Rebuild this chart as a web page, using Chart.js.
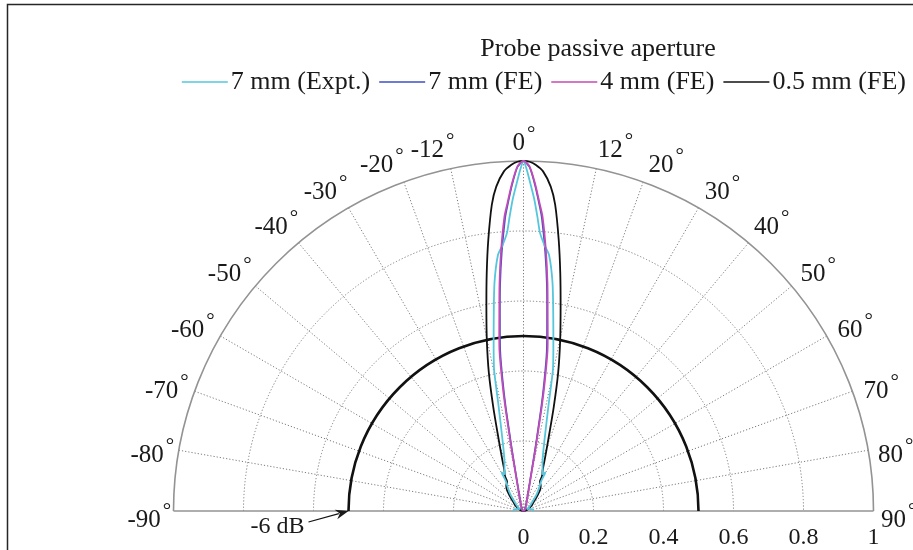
<!DOCTYPE html>
<html><head><meta charset="utf-8">
<script src="https://cdn.jsdelivr.net/npm/chart.js@4"></script>
<style>html,body{margin:0;padding:0;background:#fff;overflow:hidden}</style>
</head><body>
<canvas id="c" width="913" height="550"></canvas>
<script>
// ---- data (angles in degrees from broadside, normalised amplitude) ----
const seriesNames = ['7 mm (Expt.)', '7 mm (FE)', '4 mm (FE)', '0.5 mm (FE)'];
const legendTitle = 'Probe passive aperture';

const angExpt = [-90,-80,-70,-62,-55,-45,-38,-33,-30.5,-29.5,-27,-24.9,-20,-16.5,-13.3,-11.8,-10.5,-8.7,-7.25,-5.7,-4.5,-3.4,-2.7,-2,-1.2,-0.5,
                 0,0.5,1.2,2,2.7,3.4,4.5,5.7,7.25,8.7,10.5,11.8,13.3,16.5,20,24.9,27,29.5,30.5,33,38,45,55,62,70,80,90];
const rExpt   = [0.03,0.026,0.018,0.012,0.02,0.035,0.062,0.085,0.1,0.126,0.118,0.129,0.16,0.211,0.311,0.41,0.468,0.562,0.657,0.735,0.762,0.796,0.842,0.89,0.936,0.978,
                 1,0.978,0.936,0.89,0.842,0.796,0.762,0.735,0.657,0.562,0.468,0.41,0.311,0.211,0.16,0.129,0.118,0.126,0.1,0.085,0.062,0.035,0.02,0.012,0.018,0.026,0.03];

const ang7FE = [-90,-60,-45,-30,-20,-14.8,-12.2,-10.8,-10.3,-9.7,-9.1,-8.3,-7,-5.9,-4.8,-3.6,-3,-2,-1,
                0,1,2,3,3.6,4.8,5.9,7,8.3,9.1,9.7,10.3,10.8,12.2,14.8,20,30,45,60,90];
const r7FE   = [0,0.003,0.005,0.011,0.024,0.048,0.088,0.166,0.216,0.303,0.375,0.46,0.553,0.65,0.742,0.838,0.874,0.933,0.983,
                1,0.983,0.933,0.874,0.838,0.742,0.65,0.553,0.46,0.375,0.303,0.216,0.166,0.088,0.048,0.024,0.011,0.005,0.003,0];

const ang4FE = [-90,-60,-45,-30,-20,-15,-12.4,-11,-10.5,-9.9,-9.3,-8.5,-7.1,-6,-4.9,-3.7,-3,-2,-1,
                0,1,2,3,3.7,4.9,6,7.1,8.5,9.3,9.9,10.5,11,12.4,15,20,30,45,60,90];
const r4FE   = [0,0.003,0.006,0.012,0.025,0.05,0.09,0.17,0.22,0.307,0.379,0.465,0.559,0.655,0.748,0.843,0.88,0.937,0.985,
                1,0.985,0.937,0.88,0.843,0.748,0.655,0.559,0.465,0.379,0.307,0.22,0.17,0.09,0.05,0.025,0.012,0.006,0.003,0];

const ang05FE = [-90,-80,-70,-60,-52,-46,-42,-38,-34,-29,-28,-25,-22,-19.2,-16.2,-14.1,-12.1,-10.3,-8.8,-7.4,-5.9,-4.8,-3.3,-2,-1,
                 0,1,2,3.3,4.8,5.9,7.4,8.8,10.3,12.1,14.1,16.2,19.2,22,25,28,29,34,38,42,46,52,60,70,80,90];
const r05FE   = [0,0.005,0.012,0.022,0.033,0.045,0.06,0.077,0.088,0.097,0.112,0.13,0.165,0.215,0.31,0.406,0.5,0.593,0.687,0.781,0.88,0.93,0.972,0.99,0.998,
                 1,0.998,0.99,0.972,0.93,0.88,0.781,0.687,0.593,0.5,0.406,0.31,0.215,0.165,0.13,0.112,0.097,0.088,0.077,0.06,0.045,0.033,0.022,0.012,0.005,0];

const tickValues = [0, 0.2, 0.4, 0.6, 0.8, 1];
const tickLabels = ['0', '0.2', '0.4', '0.6', '0.8', '1'];
const gridRadii = [0.2, 0.4, 0.6, 0.8];
const spokeAngles = [-80,-70,-60,-50,-40,-30,-20,-12,0,12,20,30,40,50,60,70,80];
const angleLabels = [-90,-80,-70,-60,-50,-40,-30,-20,-12,0,12,20,30,40,50,60,70,80,90];
const refLevel = 0.5;      // -6 dB
const refLabel = '-6 dB';

const colors = ['#55c6dc', '#3d4fc4', '#c24bb5', '#111111'];
const FONT = '"Liberation Serif", "Times New Roman", serif';

function toXY(angs, rs) {
  return angs.map((a, i) => ({ x: rs[i] * Math.sin(a * Math.PI / 180), y: rs[i] * Math.cos(a * Math.PI / 180) }));
}

const polarGrid = {
  id: 'polarGrid',
  beforeDatasetsDraw(chart) {
    const { ctx, scales: { x, y } } = chart;
    const cx = x.getPixelForValue(0), cy = y.getPixelForValue(0);
    const rad = v => x.getPixelForValue(v) - cx;
    ctx.save();
    ctx.strokeStyle = '#7a7a7a'; ctx.lineWidth = 1; ctx.setLineDash([1.2, 2]);
    gridRadii.forEach(g => { ctx.beginPath(); ctx.arc(cx, cy, rad(g), Math.PI, 2 * Math.PI); ctx.stroke(); });
    spokeAngles.forEach(a => {
      const t = a * Math.PI / 180;
      ctx.beginPath(); ctx.moveTo(cx, cy);
      ctx.lineTo(x.getPixelForValue(Math.sin(t)), y.getPixelForValue(Math.cos(t))); ctx.stroke();
    });
    ctx.setLineDash([]);
    ctx.strokeStyle = '#939393'; ctx.lineWidth = 1.6;
    ctx.beginPath(); ctx.arc(cx, cy, rad(1), Math.PI, 2 * Math.PI); ctx.stroke();
    ctx.beginPath(); ctx.moveTo(x.getPixelForValue(-1), cy); ctx.lineTo(x.getPixelForValue(1), cy); ctx.stroke();
    ctx.strokeStyle = '#111'; ctx.lineWidth = 2.6;
    ctx.beginPath(); ctx.arc(cx, cy, rad(refLevel), Math.PI, 2 * Math.PI); ctx.stroke();
    ctx.restore();
  }
};

const decorations = {
  id: 'decorations',
  afterDraw(chart) {
    const { ctx, scales: { x, y } } = chart;
    const cx = x.getPixelForValue(0), cy = y.getPixelForValue(0);
    ctx.save();
    ctx.fillStyle = '#1a1a1a';
    // radial tick labels
    ctx.font = '24px ' + FONT; ctx.textAlign = 'center'; ctx.textBaseline = 'alphabetic';
    tickValues.forEach((v, i) => ctx.fillText(tickLabels[i], x.getPixelForValue(v), cy + 33));
    // angle labels
    angleLabels.forEach(a => {
      const abs = Math.abs(a), s = Math.sign(a);
      const nudge = abs === 12 || abs === 20 ? 2 : (abs === 30 ? 1.4 : (abs === 0 ? 0 : 0.5));
      const t = (a + s * nudge) * Math.PI / 180;
      const rl = 1.07 + 0.02 * Math.abs(Math.sin(2 * t));
      const bx = x.getPixelForValue(rl * Math.sin(t)), by = y.getPixelForValue(rl * Math.cos(t));
      ctx.font = '25px ' + FONT;
      const txt = String(a);
      const w1 = ctx.measureText(txt).width;
      ctx.font = '21px ' + FONT;
      const w2 = ctx.measureText('°').width;
      const left = bx - (w1 + w2 + 1) / 2;
      ctx.textAlign = 'left';
      ctx.font = '25px ' + FONT;
      ctx.fillText(txt, left, by + 13);
      ctx.font = '21px ' + FONT;
      ctx.fillText('°', left + w1 + 2, by + 13 - 10);
    });
    // -6 dB annotation with arrow
    const tipX = x.getPixelForValue(-refLevel), tipY = cy;
    ctx.font = '24px ' + FONT; ctx.textAlign = 'center'; ctx.textBaseline = 'alphabetic';
    ctx.fillText(refLabel, tipX - 71, cy + 22);
    const sx = tipX - 40, sy = cy + 11;
    const ang = Math.atan2(tipY - sy, tipX - sx);
    ctx.strokeStyle = '#111'; ctx.lineWidth = 1.2;
    ctx.beginPath(); ctx.moveTo(sx, sy); ctx.lineTo(tipX - 10 * Math.cos(ang), tipY - 10 * Math.sin(ang)); ctx.stroke();
    ctx.beginPath();
    ctx.moveTo(tipX, tipY);
    ctx.lineTo(tipX - 13 * Math.cos(ang) + 5 * Math.sin(ang), tipY - 13 * Math.sin(ang) - 5 * Math.cos(ang));
    ctx.lineTo(tipX - 9 * Math.cos(ang), tipY - 9 * Math.sin(ang));
    ctx.lineTo(tipX - 13 * Math.cos(ang) - 5 * Math.sin(ang), tipY - 13 * Math.sin(ang) + 5 * Math.cos(ang));
    ctx.closePath(); ctx.fill();
    // legend
    ctx.font = '26px ' + FONT; ctx.textAlign = 'center';
    ctx.fillText(legendTitle, 598, 56);
    const lineLen = 46, gapLT = 3, gapItem = 9, right = 906, rowY = 89, lineY = 82;
    const widths = seriesNames.map(n => ctx.measureText(n).width);
    let total = widths.reduce((s, w) => s + w, 0) + seriesNames.length * (lineLen + gapLT) + (seriesNames.length - 1) * gapItem;
    let px = right - total;
    ctx.textAlign = 'left';
    seriesNames.forEach((n, i) => {
      ctx.strokeStyle = colors[i]; ctx.lineWidth = 1.3;
      ctx.beginPath(); ctx.moveTo(px, lineY); ctx.lineTo(px + lineLen, lineY); ctx.stroke();
      px += lineLen + gapLT;
      ctx.fillText(n, px, rowY);
      px += widths[i] + gapItem;
    });
    // frame
    ctx.strokeStyle = '#262626'; ctx.lineWidth = 1.5;
    ctx.strokeRect(7.5, 4.5, 1000, 1000);
    ctx.restore();
  }
};

const allAngles = [angExpt, ang7FE, ang4FE, ang05FE];
const allR = [rExpt, r7FE, r4FE, r05FE];
const orders = [2, 3, 1, 4];
const widthsL = [1.8, 1.7, 1.8, 1.8];

new Chart(document.getElementById('c'), {
  type: 'scatter',
  data: {
    datasets: seriesNames.map((n, i) => ({
      label: n,
      data: toXY(allAngles[i], allR[i]),
      showLine: true,
      borderColor: colors[i],
      backgroundColor: colors[i],
      borderWidth: widthsL[i],
      pointRadius: 0,
      tension: 0.25,
      order: orders[i],
      clip: 6
    }))
  },
  options: {
    responsive: false,
    animation: false,
    devicePixelRatio: 1,
    layout: { padding: { left: 173.5, right: 39.5, top: 161, bottom: 39 } },
    scales: {
      x: { type: 'linear', min: -1, max: 1, display: false },
      y: { type: 'linear', min: 0, max: 1, display: false }
    },
    plugins: { legend: { display: false }, tooltip: { enabled: false } }
  },
  plugins: [polarGrid, decorations]
});
</script>
</body></html>
